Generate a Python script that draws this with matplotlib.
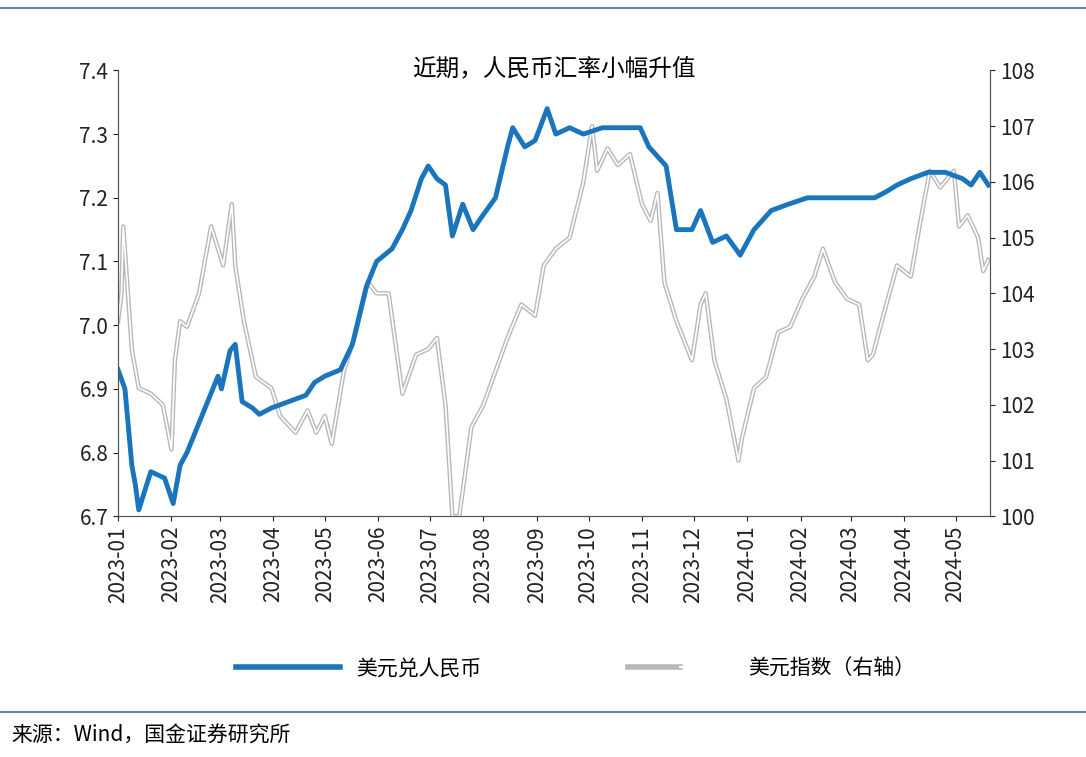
import pandas as pd
import matplotlib
matplotlib.use("Agg")
import matplotlib.pyplot as plt
import matplotlib.dates as mdates
from matplotlib.lines import Line2D
from matplotlib.legend_handler import HandlerTuple

plt.rcParams["font.family"] = ["Noto Sans CJK SC", "DejaVu Sans"]

cny_dates = ["2023-01-01", "2023-01-05", "2023-01-09", "2023-01-11", "2023-01-13", "2023-01-20", "2023-01-28",
             "2023-02-02", "2023-02-06", "2023-02-10", "2023-02-16", "2023-02-22", "2023-02-28", "2023-03-02",
             "2023-03-07", "2023-03-10", "2023-03-14", "2023-03-20", "2023-03-24", "2023-03-31", "2023-04-10",
             "2023-04-20", "2023-04-25", "2023-05-01", "2023-05-10", "2023-05-17", "2023-05-25", "2023-05-31",
             "2023-06-09", "2023-06-15", "2023-06-20", "2023-06-26", "2023-06-30", "2023-07-05", "2023-07-10",
             "2023-07-14", "2023-07-20", "2023-07-26", "2023-07-31", "2023-08-08", "2023-08-15", "2023-08-18",
             "2023-08-25", "2023-08-31", "2023-09-07", "2023-09-12", "2023-09-20", "2023-09-28", "2023-10-09",
             "2023-10-20", "2023-10-31", "2023-11-05", "2023-11-15", "2023-11-21", "2023-11-30", "2023-12-05",
             "2023-12-12", "2023-12-20", "2023-12-28", "2024-01-05", "2024-01-15", "2024-01-25", "2024-02-05",
             "2024-02-20", "2024-03-05", "2024-03-15", "2024-03-22", "2024-03-28", "2024-04-05", "2024-04-15",
             "2024-04-25", "2024-05-05", "2024-05-10", "2024-05-15", "2024-05-20"]
cny_values = [6.93, 6.90, 6.78, 6.75, 6.71, 6.77, 6.76,
              6.72, 6.78, 6.80, 6.84, 6.88, 6.92, 6.90,
              6.96, 6.97, 6.88, 6.87, 6.86, 6.87, 6.88,
              6.89, 6.91, 6.92, 6.93, 6.97, 7.06, 7.10,
              7.12, 7.15, 7.18, 7.23, 7.25, 7.23, 7.22,
              7.14, 7.19, 7.15, 7.17, 7.20, 7.28, 7.31,
              7.28, 7.29, 7.34, 7.30, 7.31, 7.30, 7.31,
              7.31, 7.31, 7.28, 7.25, 7.15, 7.15, 7.18,
              7.13, 7.14, 7.11, 7.15, 7.18, 7.19, 7.20,
              7.20, 7.20, 7.20, 7.21, 7.22, 7.23, 7.24,
              7.24, 7.23, 7.22, 7.24, 7.22]

dxy_dates = ["2023-01-01", "2023-01-03", "2023-01-04", "2023-01-09", "2023-01-13", "2023-01-20", "2023-01-27",
             "2023-02-01", "2023-02-03", "2023-02-06", "2023-02-10", "2023-02-17", "2023-02-24", "2023-02-28",
             "2023-03-03", "2023-03-08", "2023-03-10", "2023-03-15", "2023-03-22", "2023-03-31", "2023-04-05",
             "2023-04-14", "2023-04-21", "2023-04-26", "2023-05-01", "2023-05-05", "2023-05-12", "2023-05-19",
             "2023-05-26", "2023-05-31", "2023-06-07", "2023-06-15", "2023-06-23", "2023-06-30", "2023-07-05",
             "2023-07-10", "2023-07-14", "2023-07-18", "2023-07-25", "2023-08-01", "2023-08-08", "2023-08-15",
             "2023-08-23", "2023-08-31", "2023-09-05", "2023-09-12", "2023-09-20", "2023-09-28", "2023-10-03",
             "2023-10-06", "2023-10-12", "2023-10-18", "2023-10-25", "2023-11-01", "2023-11-06", "2023-11-10",
             "2023-11-14", "2023-11-21", "2023-11-30", "2023-12-05", "2023-12-08", "2023-12-13", "2023-12-20",
             "2023-12-27", "2023-12-29", "2024-01-05", "2024-01-12", "2024-01-19", "2024-01-26", "2024-02-02",
             "2024-02-09", "2024-02-14", "2024-02-21", "2024-02-28", "2024-03-06", "2024-03-11", "2024-03-14",
             "2024-03-20", "2024-03-28", "2024-04-05", "2024-04-10", "2024-04-16", "2024-04-22", "2024-04-30",
             "2024-05-03", "2024-05-08", "2024-05-14", "2024-05-17", "2024-05-20"]
dxy_values = [103.5, 104.0, 105.2, 103.0, 102.3, 102.2, 102.0,
              101.2, 102.8, 103.5, 103.4, 104.0, 105.2, 104.8,
              104.5, 105.6, 104.5, 103.5, 102.5, 102.3, 101.8,
              101.5, 101.9, 101.5, 101.8, 101.3, 102.6, 103.3,
              104.2, 104.0, 104.0, 102.2, 102.9, 103.0, 103.2,
              102.0, 100.0, 100.0, 101.6, 102.0, 102.6, 103.2,
              103.8, 103.6, 104.5, 104.8, 105.0, 106.0, 107.0,
              106.2, 106.6, 106.3, 106.5, 105.6, 105.3, 105.8,
              104.2, 103.5, 102.8, 103.8, 104.0, 102.8, 102.1,
              101.0, 101.4, 102.3, 102.5, 103.3, 103.4, 103.9,
              104.3, 104.8, 104.2, 103.9, 103.8, 102.8, 102.9,
              103.6, 104.5, 104.3, 105.2, 106.2, 105.9, 106.2,
              105.2, 105.4, 105.0, 104.4, 104.6]

fig = plt.figure(figsize=(10.86, 7.57), dpi=100)
ax = fig.add_axes([0.1087, 0.318, 0.803, 0.589])
ax2 = ax.twinx()

dx = pd.to_datetime(dxy_dates)
# hollow grey line: wide grey then white core
ax2.plot(dx, dxy_values, color="#b8b8b8", lw=3.2)
ax2.plot(dx, dxy_values, color="white", lw=1.2)
ax2.set_ylim(100, 108)
ax2.set_yticks(range(100, 109))

ax.plot(pd.to_datetime(cny_dates), cny_values, color="#1a75bc", lw=3.5)
ax.set_zorder(ax2.get_zorder() + 1)
ax.patch.set_visible(False)
ax.set_ylim(6.7, 7.4)
ax.set_yticks([6.7, 6.8, 6.9, 7.0, 7.1, 7.2, 7.3, 7.4])
ax.set_xlim(pd.Timestamp("2023-01-01"), pd.Timestamp("2024-05-21"))
ax.xaxis.set_major_locator(mdates.MonthLocator())
ax.xaxis.set_major_formatter(mdates.DateFormatter("%Y-%m"))
plt.setp(ax.get_xticklabels(), rotation=90)

for a in (ax, ax2):
    a.spines["top"].set_visible(False)
    a.tick_params(labelsize=15, colors="#222222")
    for s in a.spines.values():
        s.set_color("#555555")

ax.set_title("近期，人民币汇率小幅升值", fontsize=17, pad=-4, y=1.0)

blue = Line2D([], [], color="#1a75bc", lw=4)
grey = (Line2D([], [], color="#b8b8b8", lw=4), Line2D([], [], color="white", lw=1.5))
fig.legend([blue, grey], ["美元兑人民币", "美元指数（右轴）"], loc="center",
           bbox_to_anchor=(0.53, 0.117), ncol=2, frameon=False,
           fontsize=15, handlelength=5, columnspacing=7,
           handler_map={tuple: HandlerTuple(ndivide=None, pad=0)})

fig.add_artist(Line2D([0.0, 1.0], [0.99, 0.99], color="#4a6f8a", lw=1.2))
fig.add_artist(Line2D([0.0, 1.0], [0.06, 0.06], color="#4a6f8a", lw=1.2))
fig.text(0.01, 0.028, "来源：Wind，国金证券研究所", fontsize=15, va="center")

fig.savefig("out.png", dpi=100, facecolor="white")
